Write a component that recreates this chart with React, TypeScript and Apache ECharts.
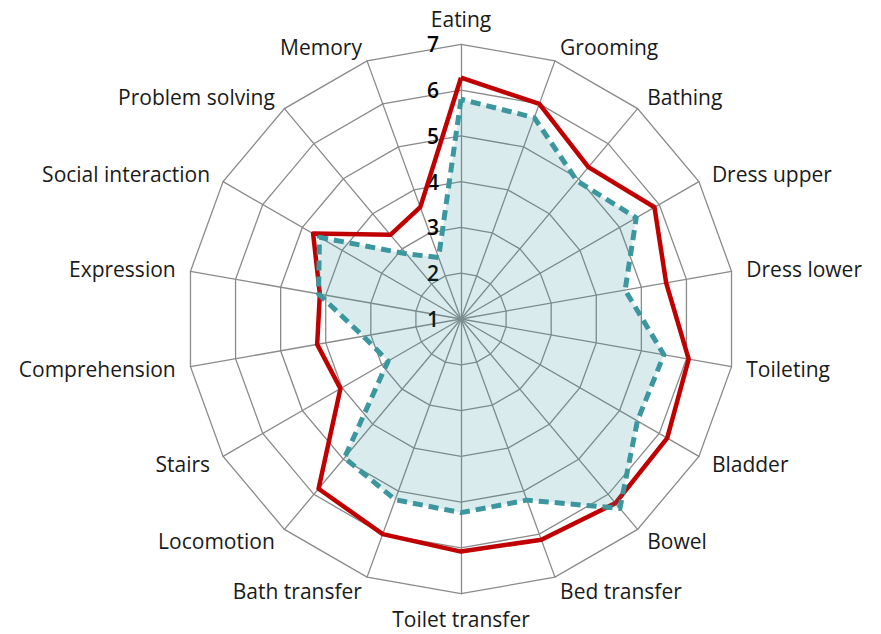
import React, { useEffect, useRef } from "react";
import * as echarts from "echarts";

// Clockwise from top
const categories = [
  "Eating", "Grooming", "Bathing", "Dress upper", "Dress lower", "Toileting",
  "Bladder", "Bowel", "Bed transfer", "Toilet transfer", "Bath transfer",
  "Locomotion", "Stairs", "Comprehension", "Expression", "Social interaction",
  "Problem solving", "Memory",
];
const seriesRed = [6.27, 6.0, 5.33, 5.88, 5.55, 6.05, 6.2, 6.25, 6.13, 6.08, 6.0, 5.84, 4.04, 4.19, 4.13, 4.73, 3.4, 3.6];
const seriesTeal = [5.8, 5.68, 4.94, 5.42, 4.64, 5.5, 5.45, 6.4, 5.21, 5.23, 5.2, 4.96, 2.84, 3.17, 4.16, 4.57, 2.86, 2.43];
const axisMin = 1;
const axisMax = 7;

// ECharts lays radar indicators out counter-clockwise; reorder to draw clockwise.
const toCcw = <T,>(arr: T[]): T[] => [arr[0], ...arr.slice(1).reverse()];

export default function App() {
  const ref = useRef<HTMLDivElement>(null);
  useEffect(() => {
    document.body.style.margin = "0";
    if (!ref.current) return;
    const chart = echarts.init(ref.current, undefined, { renderer: "svg" });
    const names = toCcw(categories);
    const indicator = names.map((n, i) => {
      const o: any = { name: n, min: axisMin, max: axisMax };
      if (i === 0) o.axisLabel = { show: true };
      return o;
    });
    chart.setOption({
      animation: false,
      backgroundColor: "#ffffff",
      radar: {
        center: [461, 319],
        radius: 274.7,
        startAngle: 90,
        splitNumber: 6,
        shape: "polygon",
        indicator,
        nameGap: 15,
        axisName: {
          color: "#1a1a1a",
          fontFamily: "Open Sans",
          fontSize: 21,
        },
        axisLine: { lineStyle: { color: "#8a8a8a", width: 1.3 } },
        splitLine: { lineStyle: { color: "#8a8a8a", width: 1.3 } },
        splitArea: { show: false },
        axisTick: { show: false },
        axisLabel: {
          show: false,
          color: "#000",
          fontFamily: "Open Sans",
          fontWeight: 600,
          fontSize: 21,
          margin: 22,
        },
      },
      series: [
        {
          type: "radar",
          symbol: "none",
          z: 2,
          data: [
            {
              value: toCcw(seriesRed),
              lineStyle: { color: "#c00000", width: 4.5 },
            },
          ],
        },
        {
          type: "radar",
          symbol: "none",
          z: 3,
          data: [
            {
              value: toCcw(seriesTeal),
              lineStyle: { color: "#3c979e", width: 5, type: [10, 6] },
              areaStyle: { color: "#3c979e", opacity: 0.19 },
            },
          ],
        },
      ],
    });
    return () => chart.dispose();
  }, []);
  return <div ref={ref} style={{ width: 881, height: 634 }} />;
}
